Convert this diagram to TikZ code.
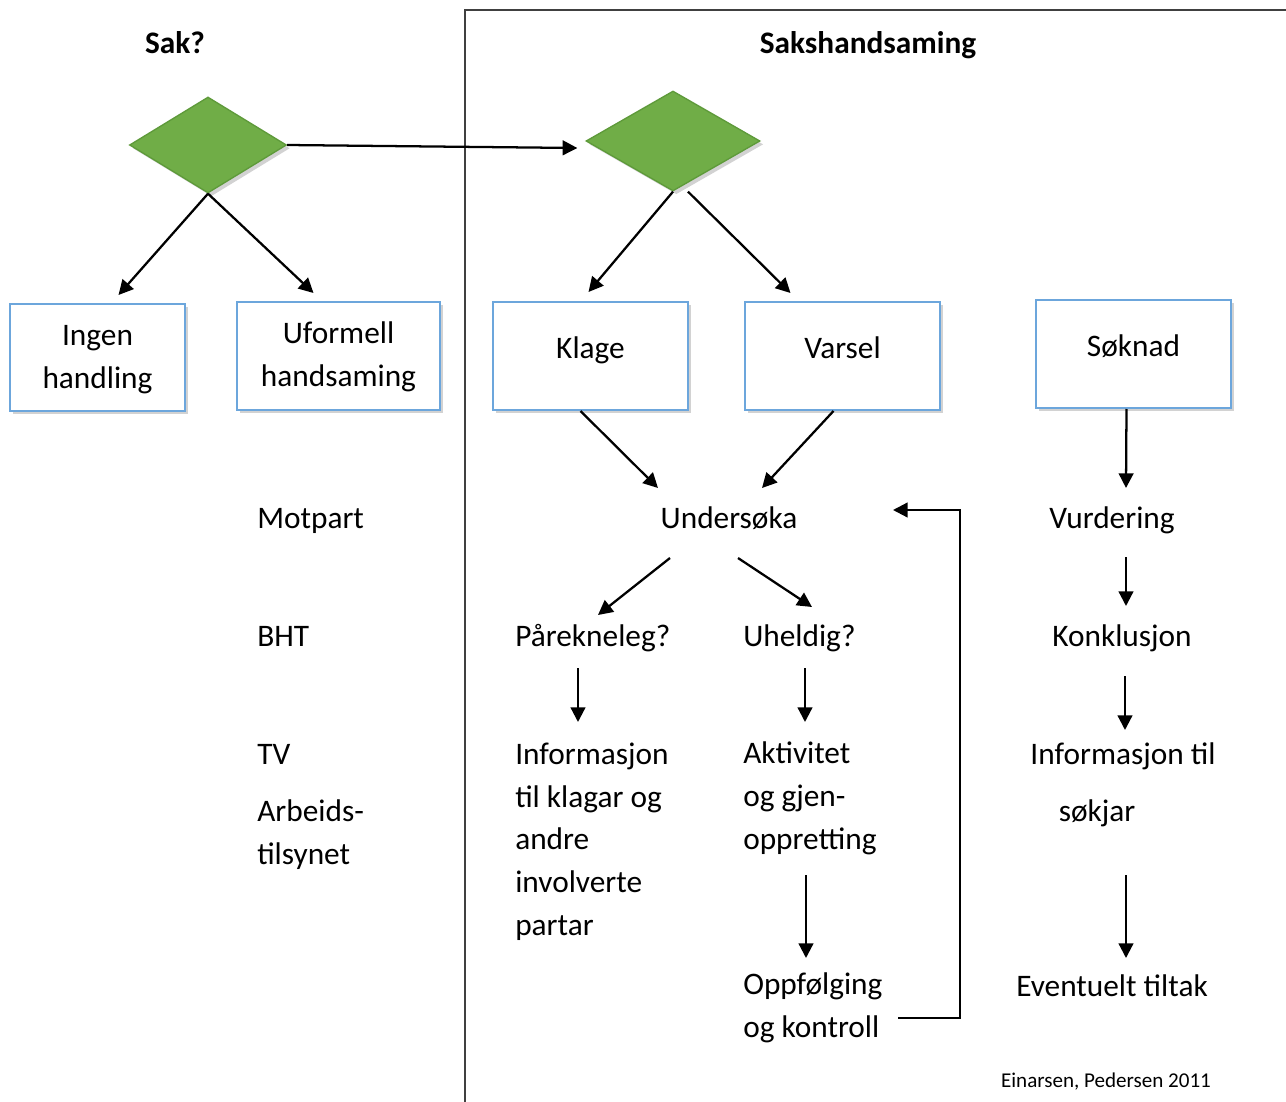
\documentclass[tikz,border=0pt]{standalone}
\usepackage{fontspec}
\setmainfont{Carlito}
\usetikzlibrary{shapes.geometric,shadows,calc,arrows.meta}
\definecolor{dgreen}{HTML}{70AD47}
\definecolor{dgreenb}{HTML}{5E9A3A}
\definecolor{bblue}{HTML}{6CA6DC}
\definecolor{divgray}{HTML}{404040}
\begin{document}
\begin{tikzpicture}[x=0.75pt,y=-0.75pt,
  every node/.style={font=\fontsize{23.5}{32}\selectfont},
  txt/.style={inner sep=0pt,align=left},
  ctxt/.style={inner sep=0pt,align=center},
  dia/.style={diamond,draw=dgreenb,line width=1pt,fill=dgreen,inner sep=0pt,
    drop shadow={shadow xshift=2.5pt,shadow yshift=-2.5pt,opacity=0.35}},
  box/.style={rectangle,draw=bblue,line width=1.5pt,fill=white,align=center,inner sep=0pt,
    drop shadow={shadow xshift=2.5pt,shadow yshift=-2.5pt,opacity=0.35}},
  onebox/.style={box,text height=12pt,text depth=9pt},
  arr/.style={-{Triangle[length=11pt,width=11pt]},line width=1.7pt},
  divline/.style={draw=divgray,line width=1.3pt}
]
\useasboundingbox (0,0) rectangle (1286,1102);
\fill[white] (0,0) rectangle (1286,1102);

% frame lines
\coordinate (ltop) at (465,10);
\coordinate (lbot) at (465,1102);
\coordinate (rtop) at (1286,10);
\draw[divline] (lbot) -- (ltop) -- (rtop);

% titles
\node[ctxt,anchor=base,font=\fontsize{23.5}{32}\selectfont\bfseries] (sak) at (175,54) {Sak?};
\node[ctxt,anchor=base,font=\fontsize{23.5}{32}\selectfont\bfseries] (saks) at (868,54) {Sakshandsaming};

% diamonds
\node[dia,minimum width={157*0.75pt},minimum height={96*0.75pt}] (d1) at (208,145) {};
\node[dia,minimum width={174*0.75pt},minimum height={100*0.75pt}] (d2) at (673,141) {};

% boxes
\node[box,minimum width={175*0.75pt},minimum height={107*0.75pt}] (ing) at (97.5,357.5) {\rule{0pt}{18pt}Ingen\\handling};
\node[box,minimum width={203*0.75pt},minimum height={108*0.75pt}] (uf) at (338.5,356) {\rule{0pt}{18pt}Uformell\\handsaming};
\node[onebox,minimum width={195*0.75pt},minimum height={108*0.75pt}] (kl) at (590.5,356) {Klage};
\node[onebox,minimum width={195*0.75pt},minimum height={108*0.75pt}] (var) at (842.5,356) {Varsel};
\node[onebox,minimum width={195*0.75pt},minimum height={108*0.75pt}] (sk) at (1133.5,354) {Søknad};

% left column labels
\node[txt,anchor=base west] (mot) at (257,528) {Motpart};
\node[txt,anchor=base west] (bht) at (257,646) {BHT};
\node[txt,anchor=base west] (tv) at (257,764) {TV};
\node[txt,anchor=base west] (arb) at (257,864) {Arbeids-\\tilsynet};

% middle
\node[ctxt,anchor=base] (und) at (729,528) {Undersøka};
\node[txt,anchor=base west] (pare) at (515,646) {Pårekneleg?};
\node[txt,anchor=base west] (uhel) at (743,646) {Uheldig?};
\node[txt,anchor=base west] (infk) at (515,935) {Informasjon\\til klagar og\\andre\\involverte\\partar};
\node[txt,anchor=base west] (akt) at (743,849) {Aktivitet\\og gjen-\\oppretting};
\node[txt,anchor=base west] (opp) at (743,1037) {Oppfølging\\og kontroll};

% right
\node[ctxt,anchor=base] (vur) at (1112,528) {Vurdering};
\node[ctxt,anchor=base] (kon) at (1122,646) {Konklusjon};
\node[ctxt,anchor=base] (inft) at (1123,764) {Informasjon til};
\node[ctxt,anchor=base] (sok) at (1097,821) {søkjar};
\node[ctxt,anchor=base] (eve) at (1112,996) {Eventuelt tiltak};

% footer
\node[ctxt,anchor=base,font=\fontsize{15.8}{19}\selectfont] (foot) at (1106,1087) {Einarsen, Pedersen 2011};

% connectors
\draw[arr] (d1.east) -- ($(d2.west)+(-8,7)$);
\draw[arr] (d1.south) -- ($(ing.north)+(21,-8)$);
\draw[arr] (d1.south) -- ($(uf.north)+(-25,-8)$);
\draw[arr] (d2.south) -- ($(kl.north)+(-2,-9)$);
\draw[arr] ($(d2.south)+(15,0)$) -- ($(var.north)+(-52,-8)$);
\draw[arr] ($(kl.south)+(-10,0)$) -- ($(und.base)+(-71,-40)$);
\draw[arr] ($(var.south)+(-9,0)$) -- ($(und.base)+(33,-40)$);
\draw[arr] ($(und.base)+(-59,30)$) -- ($(pare.base west)+(83,-31)$);
\draw[arr] ($(und.base)+(9,30)$) -- ($(uhel.base west)+(69,-39)$);
\draw[arr] ($(pare.base west)+(63,22)$) -- ($(infk.base west)+(63,-213)$);
\draw[arr] ($(uhel.base west)+(62,22)$) -- ($(akt.base west)+(62,-127)$);
\draw[arr] ($(akt.base west)+(63,26)$) -- ($(opp.base west)+(63,-79)$);
\draw[arr] ($(opp.base west)+(155,-19)$) -- ++(62,0) |- ($(und.base)+(164,-18)$);
\draw[arr] ($(sk.south)+(-7,0)$) -- ($(vur.base)+(14,-40)$);
\draw[arr] ($(vur.base)+(14,29)$) -- ($(kon.base)+(4,-40)$);
\draw[arr] ($(kon.base)+(3,30)$) -- ($(inft.base)+(2,-34)$);
\draw[arr] ($(sok.base)+(29,54)$) -- ($(eve.base)+(14,-38)$);
\end{tikzpicture}
\end{document}
